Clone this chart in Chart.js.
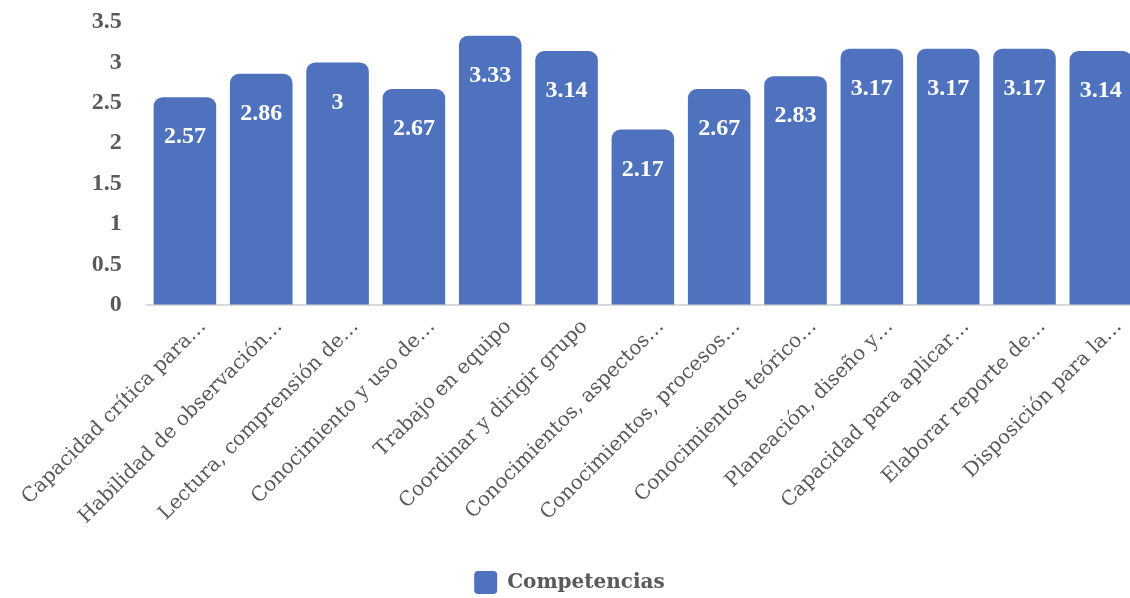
<!DOCTYPE html>
<html>
<head>
<meta charset="utf-8">
<script src="https://cdn.jsdelivr.net/npm/chart.js@4/dist/chart.umd.min.js"></script>
<style>
  html, body { margin: 0; padding: 0; background: #ffffff; overflow: hidden; }
  #wrap { width: 1139px; height: 598px; }
</style>
</head>
<body>
<div id="wrap"><canvas id="competenciasChart"></canvas></div>
<script>
const categories = [
    'Capacidad crítica para…',
    'Habilidad de observación…',
    'Lectura, comprensión de…',
    'Conocimiento y uso de…',
    'Trabajo en equipo',
    'Coordinar y dirigir grupo',
    'Conocimientos, aspectos…',
    'Conocimientos, procesos…',
    'Conocimientos teórico…',
    'Planeación, diseño y…',
    'Capacidad para aplicar…',
    'Elaborar reporte de…',
    'Disposición para la…'
];
const competencias = [2.57, 2.86, 3, 2.67, 3.33, 3.14, 2.17, 2.67, 2.83, 3.17, 3.17, 3.17, 3.14];
const seriesName = 'Competencias';

const barColor = '#4E72BE';
const textGray = '#595959';

// draws the value inside the top of each bar
const barValueLabels = {
    id: 'barValueLabels',
    afterDatasetsDraw(chart) {
        const ctx = chart.ctx;
        const meta = chart.getDatasetMeta(0);
        ctx.save();
        ctx.fillStyle = '#ffffff';
        ctx.font = 'bold 24px "Liberation Serif"';
        ctx.textAlign = 'center';
        ctx.textBaseline = 'middle';
        meta.data.forEach((bar, i) => {
            ctx.fillText(String(competencias[i]), bar.x, bar.y + 40);
        });
        ctx.restore();
    }
};

new Chart(document.getElementById('competenciasChart'), {
    type: 'bar',
    data: {
        labels: categories,
        datasets: [{
            label: seriesName,
            data: competencias,
            backgroundColor: barColor,
            borderRadius: { topLeft: 9, topRight: 9 },
            borderSkipped: 'bottom',
            barPercentage: 0.82,
            categoryPercentage: 1
        }]
    },
    options: {
        responsive: true,
        maintainAspectRatio: false,
        animation: false,
        layout: { padding: { top: 22, right: 0, left: 0, bottom: -6 } },
        scales: {
            x: {
                grid: { display: false },
                border: { display: true, color: '#D9D9D9', width: 2 },
                ticks: {
                    color: textGray,
                    font: { family: 'DejaVu Serif', size: 20 },
                    minRotation: 45,
                    maxRotation: 45,
                    autoSkip: false,
                    padding: 2,
                    labelOffset: 18
                },
                afterFit(scale) { scale.height = 266; }
            },
            y: {
                min: 0,
                max: 3.5,
                // invisible ticks just to push the labels away from the bars
                grid: { display: true, drawOnChartArea: false, drawTicks: true, tickLength: 25, tickColor: 'rgba(0,0,0,0)' },
                border: { display: false },
                ticks: {
                    stepSize: 0.5,
                    color: textGray,
                    font: { family: 'Liberation Serif', size: 24, weight: 'bold' },
                    padding: 0,
                    callback: (v) => String(v)
                },
                afterFit(scale) { scale.width = 146; }
            }
        },
        plugins: {
            legend: {
                position: 'bottom',
                labels: {
                    color: textGray,
                    font: { family: 'DejaVu Serif', size: 20, weight: 'bold' },
                    boxWidth: 23,
                    boxHeight: 23,
                    useBorderRadius: true,
                    borderRadius: 4,
                    padding: 0
                }
            },
            tooltip: { enabled: false }
        }
    },
    plugins: [barValueLabels]
});
</script>
</body>
</html>
